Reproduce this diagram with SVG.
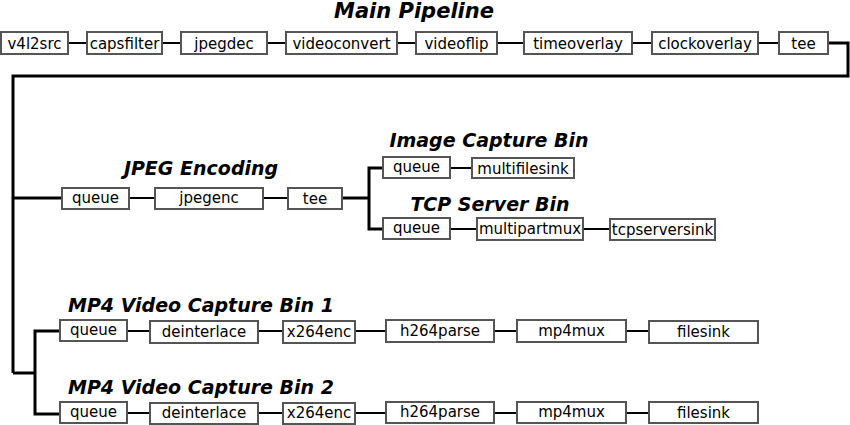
<svg xmlns="http://www.w3.org/2000/svg" width="850" height="425" viewBox="0 0 850 425">
<style>
.b rect{fill:#fff;stroke:#555;stroke-width:2}
.b text{font-family:"DejaVu Sans",sans-serif;font-size:15px;text-anchor:middle;fill:#000}
.t{font-family:"DejaVu Sans",sans-serif;font-weight:bold;font-style:italic;text-anchor:middle;fill:#000}
.c{fill:none;stroke:#000;stroke-width:2}
.k{fill:none;stroke:#000;stroke-width:3}
</style>
<rect width="850" height="425" fill="#fff"/>
<g id="titles">
<text class="t" x="414" y="18" font-size="21">Main Pipeline</text>
<text class="t" x="201" y="175" font-size="19">JPEG Encoding</text>
<text class="t" x="489" y="147" font-size="19">Image Capture Bin</text>
<text class="t" x="490" y="211" font-size="19">TCP Server Bin</text>
<text class="t" x="201" y="312" font-size="19">MP4 Video Capture Bin 1</text>
<text class="t" x="201" y="394" font-size="19">MP4 Video Capture Bin 2</text>
</g>
<g id="connectors">
<path class="c" d="M68 43H87M162 43H181M267 43H286M397 43H416M497 43H524M632 43H652M758 43H779"/>
<path class="k" d="M828 43H848V76H13V373"/>
<path class="k" d="M13 198H62"/>
<path class="c" d="M129 198H155M263 198H288"/>
<path class="k" d="M342 198H369M383 168H369V229H383"/>
<path class="c" d="M450 168H472M450 229H477M583 229H610"/>
<path class="k" d="M13 373H35M60 331H35V414H60"/>
<path class="c" d="M127 331H150M258 331H283M355 331H386M494 331H517M626 331H649"/>
<path class="c" d="M127 413H150M258 413H283M355 413H386M494 413H517M626 413H649"/>
</g>
<g id="v4l2src" class="b"><rect x="1" y="32" width="67" height="22"/><text x="34.5" y="48.5">v4l2src</text></g>
<g id="capsfilter" class="b"><rect x="87" y="32" width="75" height="22"/><text x="124.5" y="48.5">capsfilter</text></g>
<g id="jpegdec" class="b"><rect x="181" y="32" width="86" height="22"/><text x="224" y="48.5">jpegdec</text></g>
<g id="videoconvert" class="b"><rect x="286" y="32" width="111" height="22"/><text x="341.5" y="48.5">videoconvert</text></g>
<g id="videoflip" class="b"><rect x="416" y="32" width="81" height="22"/><text x="456.5" y="48.5">videoflip</text></g>
<g id="timeoverlay" class="b"><rect x="524" y="32" width="108" height="22"/><text x="578" y="48.5">timeoverlay</text></g>
<g id="clockoverlay" class="b"><rect x="652" y="32" width="106" height="22"/><text x="705" y="48.5">clockoverlay</text></g>
<g id="tee1" class="b"><rect x="779" y="32" width="49" height="22"/><text x="803.5" y="48.5">tee</text></g>

<g id="jpeg_queue" class="b"><rect x="62" y="188" width="67" height="21"/><text x="95.5" y="203">queue</text></g>
<g id="jpegenc" class="b"><rect x="155" y="188" width="108" height="21"/><text x="209" y="203">jpegenc</text></g>
<g id="tee2" class="b"><rect x="288" y="188" width="54" height="21"/><text x="315" y="203.5">tee</text></g>

<g id="img_queue" class="b"><rect x="383" y="157" width="67" height="21"/><text x="416.5" y="172">queue</text></g>
<g id="multifilesink" class="b"><rect x="472" y="158" width="102" height="20"/><text x="523" y="173.5">multifilesink</text></g>

<g id="tcp_queue" class="b"><rect x="383" y="218" width="67" height="21"/><text x="416.5" y="233">queue</text></g>
<g id="multipartmux" class="b"><rect x="477" y="218" width="106" height="22"/><text x="530" y="234">multipartmux</text></g>
<g id="tcpserversink" class="b"><rect x="610" y="219" width="105" height="21"/><text x="662.5" y="234.5">tcpserversink</text></g>

<g id="mp4a_queue" class="b"><rect x="60" y="320" width="67" height="21"/><text x="93.5" y="335">queue</text></g>
<g id="mp4a_deinterlace" class="b"><rect x="150" y="321" width="108" height="22"/><text x="204" y="337">deinterlace</text></g>
<g id="mp4a_x264enc" class="b"><rect x="283" y="321" width="72" height="22"/><text x="319" y="337">x264enc</text></g>
<g id="mp4a_h264parse" class="b"><rect x="386" y="320" width="108" height="22"/><text x="440" y="336">h264parse</text></g>
<g id="mp4a_mp4mux" class="b"><rect x="517" y="320" width="109" height="22"/><text x="571.5" y="336">mp4mux</text></g>
<g id="mp4a_filesink" class="b"><rect x="649" y="321" width="109" height="22"/><text x="703.5" y="337">filesink</text></g>

<g id="mp4b_queue" class="b"><rect x="60" y="402" width="67" height="21"/><text x="93.5" y="417">queue</text></g>
<g id="mp4b_deinterlace" class="b"><rect x="150" y="403" width="108" height="21"/><text x="204" y="418">deinterlace</text></g>
<g id="mp4b_x264enc" class="b"><rect x="283" y="403" width="72" height="21"/><text x="319" y="418">x264enc</text></g>
<g id="mp4b_h264parse" class="b"><rect x="386" y="402" width="108" height="21"/><text x="440" y="417">h264parse</text></g>
<g id="mp4b_mp4mux" class="b"><rect x="517" y="402" width="109" height="21"/><text x="571.5" y="417">mp4mux</text></g>
<g id="mp4b_filesink" class="b"><rect x="649" y="402" width="109" height="21"/><text x="703.5" y="418">filesink</text></g>
</svg>
